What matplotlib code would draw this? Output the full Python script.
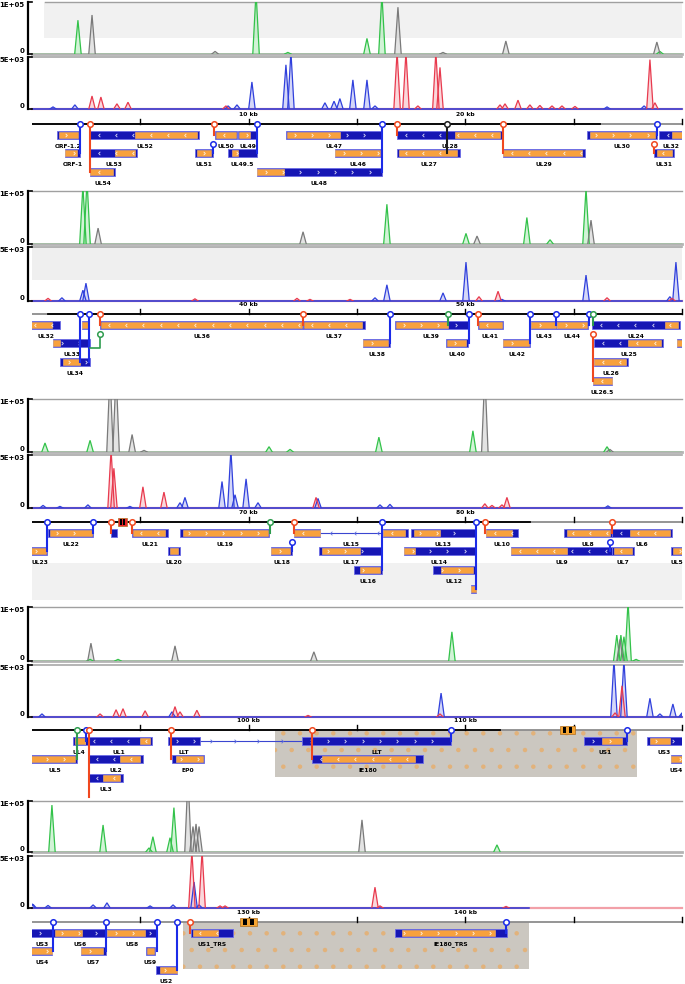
import numpy as np
import matplotlib
matplotlib.use("Agg")
import matplotlib.pyplot as plt
from matplotlib.path import Path
from matplotlib.patches import Rectangle
from matplotlib.lines import Line2D

# ---------------- data (genome coordinates in kb) ----------------
genome_end_kb = 142.94
panel_kb = 30
n_panels = 5

# upper signal track (scale 0 .. 1E+05)
top_green_kb = [2.12, 10.34, 11.81, 15.46, 16.15, 28.98,
                32.35, 32.54, 46.38, 50.03, 52.84, 53.91, 55.57,
                60.60, 62.68, 70.94, 71.91, 76.01, 80.35, 86.54,
                92.68, 93.97, 109.38, 116.99, 117.18, 117.32, 117.51, 117.88,
                120.92, 123.28, 125.40, 125.58, 126.37, 126.55, 141.46]
top_green_val = [65000, 120000, 3000, 30000, 115000, 5000,
                 110000, 120000, 75000, 20000, 50000, 8000, 105000,
                 17000, 22000, 10000, 5000, 28000, 40000, 10000,
                 3000, 3000, 54000, 48000, 48000, 45000, 110000, 3000,
                 92000, 53000, 8000, 30000, 28000, 87000, 14000]
top_grey_kb = [2.77, 8.45, 16.89, 18.97, 21.87, 28.84,
               33.05, 42.51, 50.54, 55.80,
               63.60, 63.88, 64.62, 65.17, 80.90, 86.67,
               92.72, 96.60, 103.01, 117.14,
               127.20, 127.43, 127.57, 127.71, 135.23]
top_grey_val = [75000, 5000, 90000, 3000, 25000, 23000,
                30000, 23000, 15000, 45000,
                150000, 150000, 33000, 3000, 150000, 5000,
                33000, 28000, 17000, 40000,
                150000, 50000, 55000, 50000, 63000]

# lower signal track (scale 0 .. 5E+03)
bot_blue_kb = [0.97, 1.98, 9.05, 9.46, 10.15, 11.72, 11.95, 13.52, 13.94, 14.21,
               14.81, 15.46, 15.83, 26.54, 28.25,
               31.38, 32.35, 32.49, 45.83, 46.38, 48.97, 50.03, 51.69, 55.57, 59.44, 59.72,
               60.51, 61.29, 62.58, 64.52, 66.83, 67.06, 68.77, 69.18, 69.37, 69.88, 70.43,
               73.20, 76.06, 76.52, 86.58,
               90.46, 96.46, 108.88, 116.86, 117.32, 118.52, 118.98, 119.58, 120.0,
               120.05, 120.74, 122.82, 123.46, 125.45, 126.51, 127.48, 127.71]
bot_blue_val = [200, 400, 300, 400, 2600, 4250, 5500, 600, 750, 1000,
                2800, 2800, 300, 200, 300,
                300, 1000, 1650, 300, 1500, 750, 3600, 150, 2400, 400, 3600,
                250, 150, 300, 150, 500, 1000, 2500, 5500, 1250, 2750, 500,
                900, 300, 350, 200,
                300, 500, 2300, 5500, 5500, 1800, 300, 1250, 400,
                350, 250, 300, 500, 200, 300, 2500, 300]
bot_red_kb = [2.77, 3.18, 3.92, 4.43, 8.95, 16.85, 17.26, 17.81, 18.64, 18.83,
              21.60, 21.83, 22.43, 22.98, 23.44, 24.00, 24.46, 25.06, 28.52, 28.75,
              30.74, 37.52, 42.23, 42.83, 44.68, 50.63, 51.51, 56.54, 59.54,
              63.65, 63.78, 65.12, 66.09, 73.11, 80.90, 81.23, 81.69, 81.92,
              93.14, 93.88, 94.20, 95.22, 96.60, 96.83, 97.61, 102.74, 108.83, 116.91, 117.23,
              127.38, 127.85, 128.68, 128.91, 135.83, 136.06, 141.88]
bot_red_val = [1250, 1150, 500, 650, 300, 5500, 5500, 300, 5500, 4000,
               400, 500, 850, 400, 350, 300, 300, 250, 4750, 600,
               250, 200, 250, 150, 150, 400, 900, 300, 250,
               5500, 3750, 2000, 1500, 1000, 400, 250, 300, 1000,
               300, 700, 800, 600, 1000, 500, 650, 150, 300, 400, 3000,
               5500, 5500, 200, 200, 2000, 200, 150]

# gene annotation: transcript span, coding span (0 = none), row, strand
gene_names = ["ORF-1.2", "ORF-1", "UL52", "UL53", "UL54", "UL51", "UL50", "UL49", "UL49.5",
              "UL48", "UL47", "UL46", "UL28", "UL27", "UL29", "UL30", "UL31", "UL32",
              "UL33", "UL34", "UL35", "UL36", "UL37", "UL38", "UL39", "UL40", "UL41", "UL42",
              "UL43", "UL44", "UL24", "UL25", "UL26", "UL26.5", "UL23",
              "UL22", "CTO", "UL21", "UL20", "UL19", "UL18", "", "", "UL17", "UL16", "UL14",
              "UL13", "UL12", "UL11", "UL10", "UL9", "UL8", "UL7", "UL6", "UL5",
              "UL4", "UL1", "UL2", "UL3", "LLT", "LLT", "EP0", "IE180", "US1", "US3", "US4",
              "US6", "US7", "US8", "US9", "US2", "US1_TRS", "IE180_TRS"]
gene_start = [1.15, 1.52, 2.68, 2.68, 2.68, 7.52, 8.45, 9.51, 9.05,
              10.38, 11.72, 13.98, 16.85, 16.85, 21.74, 25.61, 28.71, 28.94,
              30.97, 31.29, 32.31, 33.14, 42.51, 45.28, 46.75, 49.11, 50.58, 51.74,
              53.03, 54.23, 55.84, 55.94, 55.94, 55.89, 59.77,
              60.74, 63.65, 64.62, 66.28, 66.83, 71.03, 72.09, 76.20, 73.25, 74.86, 77.17,
              77.49, 78.51, 80.26, 80.95, 82.11, 84.55, 86.77, 86.77, 89.49,
              91.89, 92.45, 92.58, 92.58, 96.28, 102.46, 96.46, 102.92, 115.48, 118.38, 119.49,
              120.97, 122.26, 123.46, 125.26, 125.72, 127.34, 136.75]
gene_end = [2.22, 2.22, 7.71, 4.85, 3.83, 8.35, 9.46, 10.38, 10.38,
            16.15, 16.15, 16.15, 21.74, 19.75, 25.52, 28.84, 29.63, 31.29,
            32.68, 32.68, 32.58, 42.51, 45.37, 46.52, 50.12, 50.12, 51.74, 52.98,
            54.23, 55.66, 59.91, 59.12, 57.51, 56.77, 60.69,
            62.82, 63.92, 66.28, 66.83, 70.94, 72.00, 73.29, 77.35, 76.15, 76.15, 80.44,
            80.44, 80.44, 80.49, 82.43, 86.77, 86.77, 87.78, 89.54, 92.08,
            92.45, 95.54, 95.12, 94.20, 97.75, 109.34, 97.94, 108.04, 117.46, 120.97, 120.92,
            123.46, 123.41, 125.77, 125.68, 126.69, 129.28, 141.92]
cds_start = [1.25, 1.52, 4.75, 3.83, 2.68, 7.62, 8.49, 9.55, 9.23,
             10.38, 11.77, 13.98, 19.52, 16.94, 21.74, 25.75, 28.84, 29.54,
             30.97, 31.43, 32.31, 33.18, 42.55, 45.28, 46.80, 49.15, 50.63, 51.74,
             53.03, 54.23, 59.21, 57.51, 55.94, 55.89, 59.77,
             60.83, 0, 64.66, 66.37, 66.97, 71.03, 72.09, 76.20, 73.38, 75.14, 77.17,
             77.63, 78.88, 80.26, 80.95, 82.11, 84.69, 86.86, 87.60, 89.58,
             91.98, 94.98, 94.06, 93.28, 0, 0, 96.65, 103.38, 116.31, 118.52, 119.49,
             121.06, 122.26, 123.46, 125.31, 125.91, 127.43, 137.08]
cds_end = [2.12, 2.08, 7.62, 4.75, 3.74, 8.26, 9.41, 10.06, 9.51,
           11.63, 14.21, 16.06, 21.60, 19.61, 25.38, 28.75, 29.54, 30.92,
           31.29, 32.22, 32.58, 42.46, 45.23, 46.43, 49.20, 50.03, 51.69, 52.94,
           54.18, 55.61, 59.81, 59.03, 57.42, 56.77, 60.65,
           62.77, 0, 66.14, 66.74, 70.89, 71.91, 73.29, 77.21, 75.14, 76.06, 77.68,
           78.83, 80.35, 80.49, 82.15, 84.69, 86.67, 87.69, 89.44, 91.98,
           92.45, 95.45, 94.98, 94.06, 0, 0, 97.89, 107.67, 117.23, 119.44, 120.92,
           122.31, 123.28, 125.22, 125.63, 126.69, 128.58, 141.37]
gene_row = [0, 1, 0, 1, 2, 1, 0, 0, 1,
            2, 0, 1, 0, 1, 1, 0, 1, 0,
            1, 2, 0, 0, 0, 1, 0, 1, 0, 1,
            0, 0, 0, 1, 2, 3, 1,
            0, 0, 0, 1, 0, 1, 0, 0, 1, 2, 1,
            0, 2, 3, 0, 1, 0, 1, 0, 1,
            0, 0, 1, 2, 0, 0, 1, 1, 0, 0, 1,
            0, 1, 0, 1, 2, 0, 0]
gene_strand = ["+", "+", "-", "-", "-", "+", "-", "+", "+",
               "+", "+", "+", "-", "-", "-", "+", "-", "-",
               "+", "+", "+", "-", "-", "+", "+", "+", "-", "+",
               "+", "+", "-", "-", "-", "-", "+",
               "+", "-", "-", "+", "+", "+", "-", "-", "+", "+", "+",
               "+", "+", "+", "-", "-", "-", "-", "-", "+",
               "-", "-", "-", "-", "+", "+", "+", "-", "+", "+", "+",
               "+", "+", "+", "+", "+", "-", "+"]

extra_label_text = ["UL15"]
extra_label_kb = [74.72]
extra_label_row = [0]

intron_start = [73.29, 97.75]
intron_end = [76.20, 102.46]
intron_row = [0, 0]
intron_strand = ["-", "+"]

# lollipop markers: position, colour, last row reached, circle on ruler (r) or mid (m)
lol_kb = [2.22, 2.68, 8.40, 8.35, 10.38, 16.15, 16.85, 19.15, 21.74, 28.84, 28.71,
          32.22, 32.63, 33.14, 42.51, 46.52, 49.20, 50.17, 50.58, 52.98, 54.18, 55.70, 55.89, 55.89,
          60.69, 62.82, 63.65, 64.62, 70.98, 72.00, 72.09, 76.15, 80.49, 80.90, 86.77, 86.67,
          92.08, 92.49, 92.63, 96.42, 102.92, 109.34, 117.46,
          120.97, 123.41, 125.77, 126.69, 127.29, 141.88]
lol_color = ["b", "r", "r", "b", "b", "b", "r", "k", "r", "b", "r",
             "b", "b", "r", "r", "b", "g", "b", "r", "b", "b", "b", "g", "r",
             "b", "b", "r", "r", "g", "b", "r", "b", "b", "r", "r", "b",
             "g", "b", "r", "r", "r", "b", "b",
             "b", "b", "b", "b", "r", "b"]
lol_row = [1, 2, 0, 1, 1, 2, 0, 1, 1, 0, 1,
           2, 2, 0, 0, 1, 0, 1, 0, 1, 0, 0, 0, 3,
           1, 0, 0, 0, 0, 1, 0, 2, 3, 0, 0, 1,
           1, 0, 3, 1, 1, 0, 0,
           1, 1, 1, 2, 0, 0]
lol_anchor = ["r", "r", "r", "m", "r", "r", "r", "r", "r", "r", "m",
              "r", "r", "r", "r", "r", "r", "r", "r", "r", "r", "r", "r", "m",
              "r", "r", "r", "r", "r", "m", "r", "r", "r", "r", "r", "m",
              "r", "r", "r", "r", "r", "r", "r",
              "r", "r", "r", "r", "r", "r"]
elbow_kb = [33.14]
elbow_to_kb = [32.68]

repeat_start = [101.21, 126.97]
repeat_end = [117.92, 142.94]

ruler_mark_start = [63.97, 114.37, 129.60]
ruler_mark_end = [64.38, 115.06, 130.38]
ruler_mark_color = ["#e8242a", "#f5a431", "#f5a431"]

dark_ruler_start = [0.0, 30.74, 60.0, 90.0]
dark_ruler_end = [26.2, 60.0, 82.98, 111.6]

# ---------------- style / layout ----------------
W, H = 685, 984
BLUE = "#1616b4"
BLUE_EDGE = "#6b6be6"
ORANGE = "#f8a13d"
LOLC = {"b": "#1b2be8", "r": "#f0481f", "g": "#2e9c4e", "k": "#1e1e1e"}
PX_PER_KB = 650 / panel_kb

t1_top = [2, 191, 399, 607, 801]
t1_bot = [54, 244, 452, 661, 852]
t2_top = [57, 247, 455, 665, 856]
t2_bot = [109, 301, 508, 717, 908]
ruler_px = [124, 314, 522, 730, 922]
ROW0, ROWSTEP, MIDY = 10.5, 18.7, 19.5

fig = plt.figure(figsize=(W / 100, H / 100), dpi=100)
fig.patch.set_facecolor("white")
plt.rcParams["hatch.linewidth"] = 0.8


def px_axes(x0, y0, x1, y1):
    ax = fig.add_axes([x0 / W, 1 - y1 / H, (x1 - x0) / W, (y1 - y0) / H])
    ax.set_axis_off()
    return ax


def draw_peaks(ax, kbs, vals, lc, fc, hw=0.15):
    for p, v in zip(kbs, vals):
        xs = [p - hw, p, p + hw]
        ys = [0, v, 0]
        ax.fill(xs, ys, color=fc, alpha=0.5, lw=0)
        ax.plot(xs, ys, color=lc, lw=0.9, solid_joinstyle="miter")


def bracket(top, bot, lab_top):
    xb = 28
    fig.add_artist(Line2D([xb / W, xb / W], [1 - top / H, 1 - bot / H], color="k", lw=1.6))
    fig.add_artist(Line2D([xb / W, 32 / W], [1 - top / H, 1 - top / H], color="k", lw=1.2))
    fig.add_artist(Line2D([xb / W, 32 / W], [1 - bot / H, 1 - bot / H], color="k", lw=1.2))
    fig.text(24.5 / W, 1 - (top + 3) / H, lab_top, ha="right", va="center",
             fontsize=5, weight="bold")
    fig.text(24.5 / W, 1 - (bot - 3) / H, "0", ha="right", va="center",
             fontsize=5, weight="bold")


chev_r = Path([(-0.5, 1), (0.5, 0), (-0.5, -1)], [Path.MOVETO, Path.LINETO, Path.LINETO])
chev_l = Path([(0.5, 1), (-0.5, 0), (0.5, -1)], [Path.MOVETO, Path.LINETO, Path.LINETO])


def row_y(r):
    return ROW0 + ROWSTEP * r


for P in range(n_panels):
    x0k, x1k = P * panel_kb, (P + 1) * panel_kb
    data_end = min(x1k, genome_end_kb)

    # ---------- upper track ----------
    a1 = px_axes(32, t1_top[P], 682, t1_bot[P])
    a1.set_xlim(x0k, x1k)
    a1.set_ylim(0, 1e5)
    if P == 0:
        a1.add_patch(Rectangle((x0k + 0.55, 0.3e5), 29.45, 0.7e5, color="#f1f1f1", lw=0, zorder=0))
    a1.axhline(1e5, xmin=0.02 if P == 0 else 0, color="#a0a0a0", lw=1.0, clip_on=False)
    a1.axhline(0, color="#b4b4b4", lw=2.0, clip_on=False, zorder=0)
    a1.plot([x0k, data_end], [0, 0], color="#57c857", lw=1.0)
    a1.plot([x0k, data_end], [0, 0], color="#888888", lw=0.5)
    draw_peaks(a1, top_green_kb, top_green_val, "#33c24a", "#a6e8b0")
    draw_peaks(a1, top_grey_kb, top_grey_val, "#7a7a7a", "#c8c8c8")
    bracket(t1_top[P], t1_bot[P], "1E+05")

    # ---------- lower track ----------
    a2 = px_axes(32, t2_top[P], 682, t2_bot[P])
    a2.set_xlim(x0k, x1k)
    a2.set_ylim(0, 5000)
    if P == 1:
        a2.add_patch(Rectangle((x0k, 0.39 * 5000), 30, 0.61 * 5000, color="#efefef", lw=0, zorder=0))
    a2.axhline(5000, color="#a8a8a8", lw=1.2, clip_on=False, zorder=0)
    a2.plot([x0k, x1k], [0, 0], color="#f2a0a8", lw=1.6, clip_on=False)
    a2.plot([x0k, data_end], [0, 0], color="#2433d8", lw=1.1, clip_on=False)
    draw_peaks(a2, bot_blue_kb, bot_blue_val, "#3040dc", "#aab0f2")
    draw_peaks(a2, bot_red_kb, bot_red_val, "#e83a4e", "#f6b0b8")
    bracket(t2_top[P], t2_bot[P], "5E+03")

    # ---------- annotation track ----------
    ry = ruler_px[P]
    ag = px_axes(32, ry - 16, 682, ry + 80)
    ag.set_xlim(x0k, x1k)
    ag.set_ylim(80, -16)
    if P == 2:
        ag.add_patch(Rectangle((x0k, 41), 30, 37, color="#f1f1f1", lw=0, zorder=0))

    # repeat regions
    for rs, re_ in zip(repeat_start, repeat_end):
        if re_ > x0k and rs < x1k:
            ag.add_patch(Rectangle((rs, 0), re_ - rs, 47, facecolor="#cbc7c0",
                                   edgecolor="#e2b27a", hatch=".", lw=0, zorder=0.5))

    # ruler
    ag.plot([x0k, x1k], [0, 0], color="#8c8c8c", lw=1.3, zorder=1)
    for ds, de in zip(dark_ruler_start, dark_ruler_end):
        if de > x0k and ds < x1k:
            ag.plot([max(ds, x0k), min(de, x1k)], [0, 0], color="black", lw=1.3, zorder=1.1)
    for t in range(x0k + 5, x1k + 1, 5):
        ag.plot([t, t], [0, -5], color="black", lw=1.0, clip_on=False, zorder=1.2)
        if t % 10 == 0 and t != x1k:
            ag.text(t, -9.5, f"{t} kb", ha="center", va="center", fontsize=4.3, weight="bold")
    for ms, me, mc in zip(ruler_mark_start, ruler_mark_end, ruler_mark_color):
        if me > x0k and ms < x1k:
            ag.add_patch(Rectangle((ms, -4), me - ms, 8, facecolor=mc, edgecolor="#b07020", lw=0.5, zorder=3))
            w = me - ms
            for f in (0.2, 0.6):
                ag.add_patch(Rectangle((ms + f * w, -3), 0.22 * w, 6, facecolor="black", lw=0, zorder=3.1))

    # introns
    for s, e, r, st in zip(intron_start, intron_end, intron_row, intron_strand):
        if e > x0k and s < x1k:
            y = row_y(r)
            ag.plot([s, e], [y, y], color="#3a46d0", lw=0.8, zorder=2)
            for m in np.arange(s + 0.5, e - 0.2, 1.1):
                ag.plot([m], [y], marker=chev_r if st == "+" else chev_l, ms=2.6,
                        mfc="none", mec="#6070e0", mew=0.6, zorder=2.1)

    # genes
    for name, s, e, cs, ce, r, st in zip(gene_names, gene_start, gene_end, cds_start,
                                         cds_end, gene_row, gene_strand):
        if e <= x0k or s >= x1k:
            continue
        y = row_y(r)
        ag.add_patch(Rectangle((s, y - 4), e - s, 8, facecolor=BLUE, edgecolor=BLUE_EDGE,
                               lw=0.6, zorder=2.5))
        if ce > cs:
            ag.add_patch(Rectangle((cs, y - 3), ce - cs, 6, facecolor=ORANGE, edgecolor="#f6b870",
                                   lw=0.4, zorder=2.6))
        if e - s > 0.6:
            for m in np.arange(s + 0.4, e - 0.15, 0.8):
                ag.plot([m], [y], marker=chev_r if st == "+" else chev_l, ms=2.4,
                        mfc="none", mec="white", mew=0.6, alpha=0.85, zorder=2.7)
        vs, ve = max(s, x0k), min(e, x1k)
        if name and (ve - vs) * PX_PER_KB >= 8:
            ag.text((vs + ve) / 2, y + 11.5, name, ha="center", va="center",
                    fontsize=4.3, weight="bold", zorder=4)

    for t, k, r in zip(extra_label_text, extra_label_kb, extra_label_row):
        if x0k < k < x1k:
            ag.text(k, row_y(r) + 11.5, t, ha="center", va="center", fontsize=4.3,
                    weight="bold", zorder=4)

    # lollipops
    for k, c, r, an in zip(lol_kb, lol_color, lol_row, lol_anchor):
        if not (x0k <= k <= x1k):
            continue
        y0 = 0 if an == "r" else MIDY
        ag.plot([k, k], [y0, row_y(r)], color=LOLC[c], lw=1.5, zorder=5)
        ag.plot([k], [y0], marker="o", ms=4, mfc="white", mec=LOLC[c], mew=1.1, zorder=5.1)
    for k, k2 in zip(elbow_kb, elbow_to_kb):
        if x0k <= k <= x1k:
            ag.plot([k, k, k2], [MIDY, 34, 34], color=LOLC["g"], lw=1.2, zorder=5)
            ag.plot([k], [MIDY], marker="o", ms=4, mfc="white", mec=LOLC["g"], mew=1.1, zorder=5.1)

fig.savefig("out.png", dpi=100, facecolor="white")
